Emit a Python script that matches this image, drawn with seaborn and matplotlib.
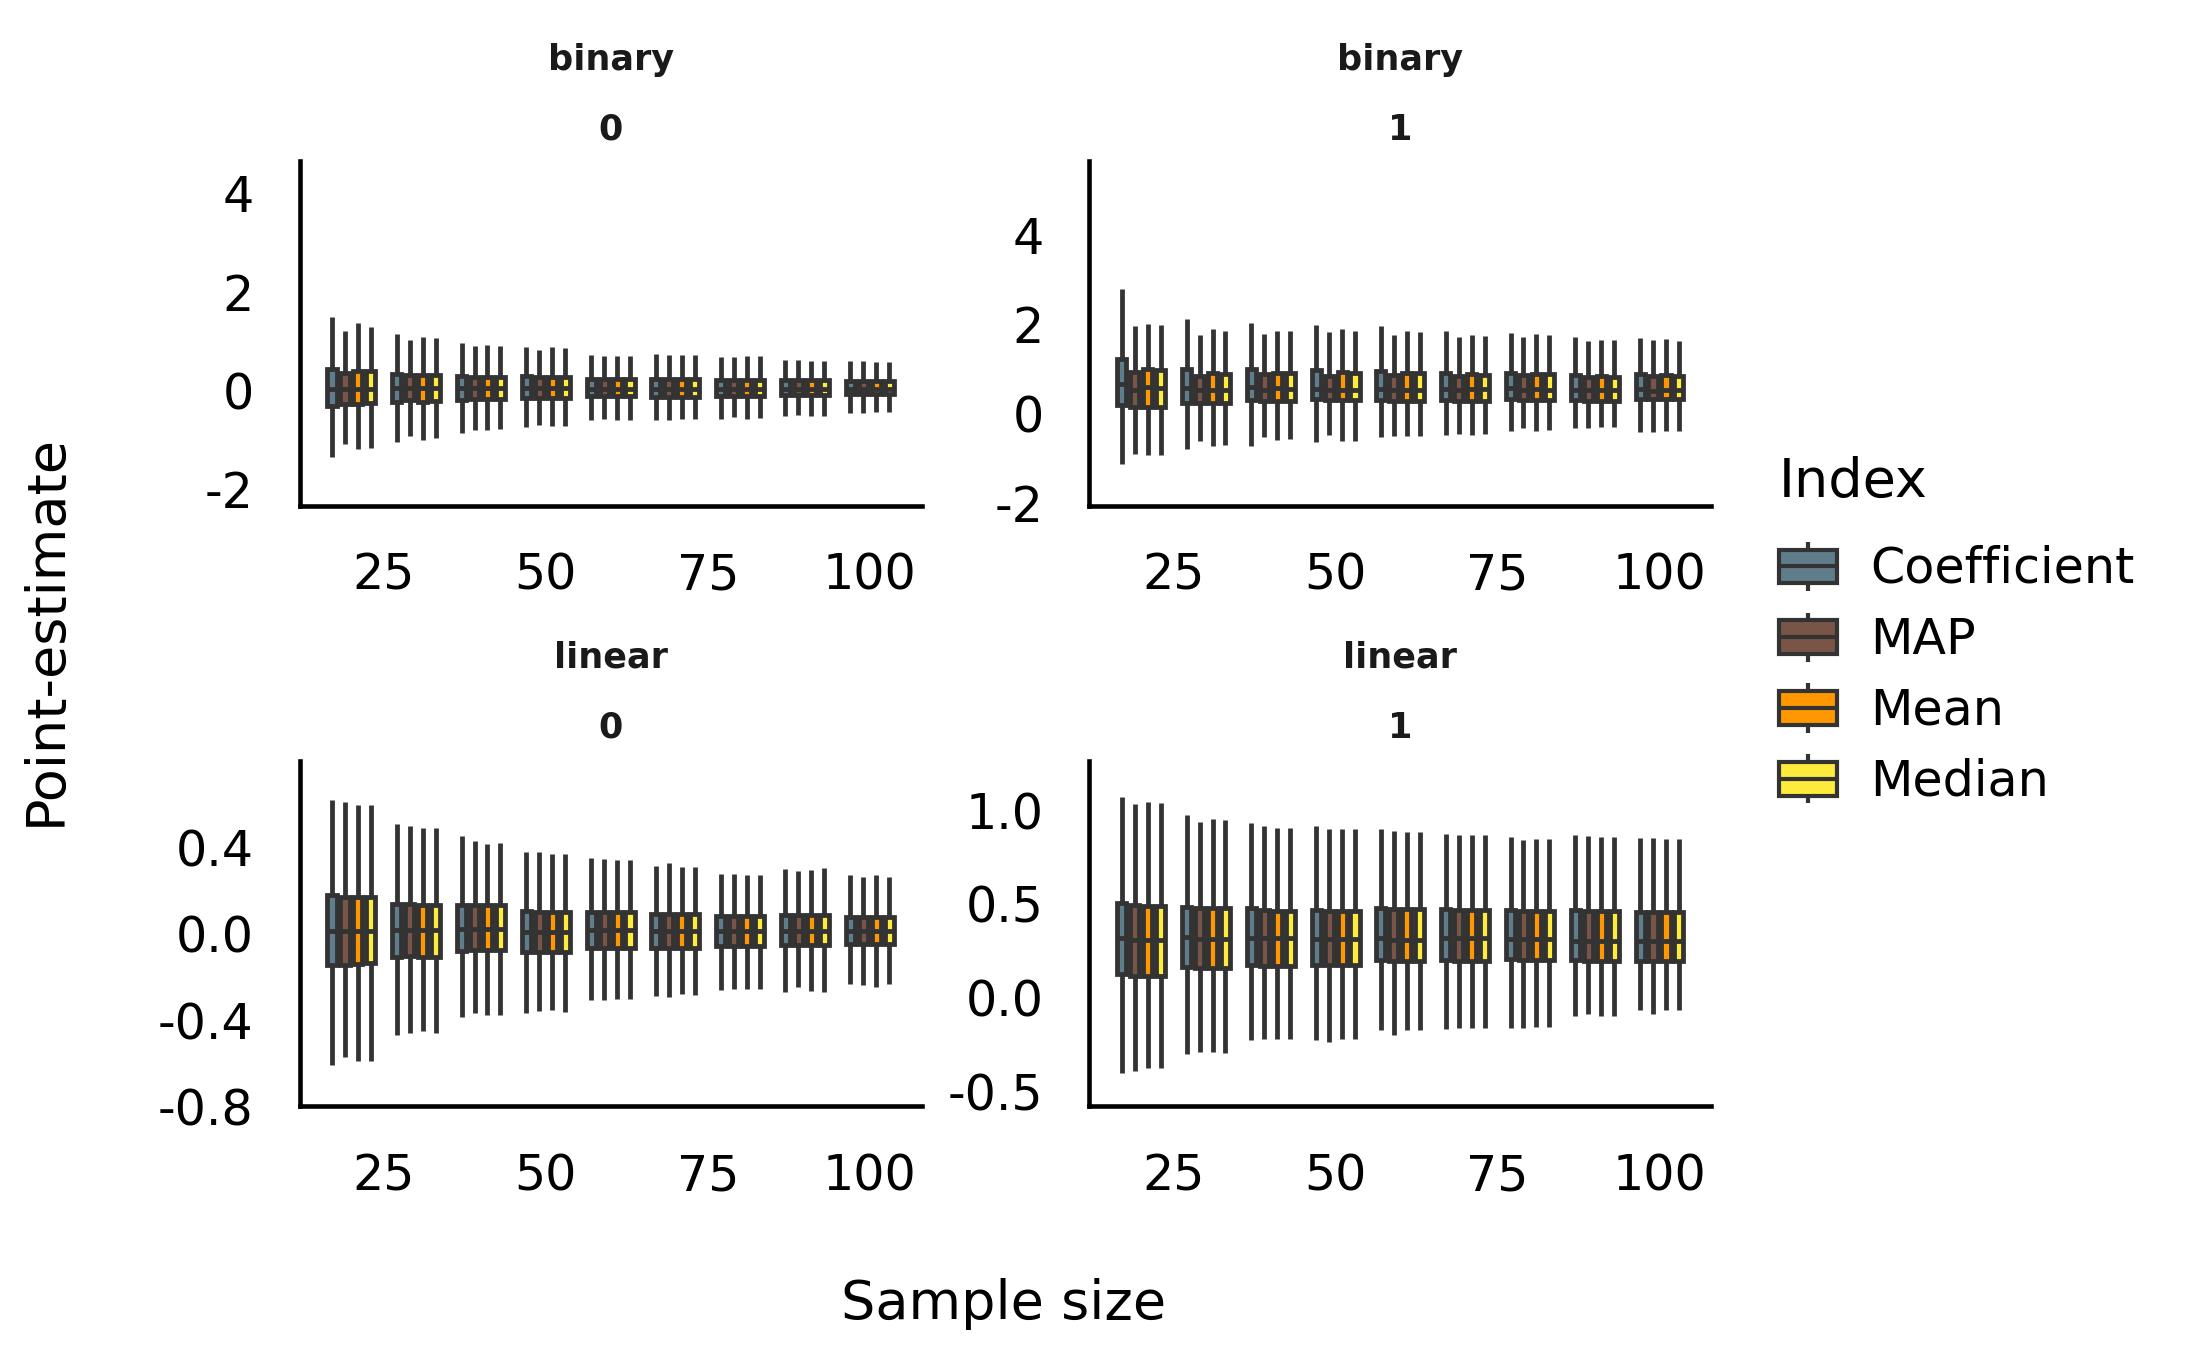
import numpy as np
import pandas as pd
import seaborn as sns
import matplotlib.pyplot as plt
from matplotlib.ticker import FormatStrFormatter
from matplotlib.legend_handler import HandlerBase
from matplotlib.patches import Rectangle, Patch
from matplotlib.lines import Line2D

# ---------------- data ----------------
sizes = [20, 30, 40, 50, 60, 70, 80, 90, 100]
indices = ["Coefficient", "MAP", "Mean", "Median"]
colors = ["#607D8B", "#795548", "#FF9800", "#FFEB3B"]

# binary / 0   (rows: Coefficient, MAP, Mean, Median)
binary0_hi = [[1.48, 1.14, 0.96, 0.88, 0.72, 0.74, 0.68, 0.61, 0.59],
              [1.21, 1.02, 0.91, 0.83, 0.70, 0.72, 0.68, 0.61, 0.60],
              [1.37, 1.09, 0.93, 0.89, 0.70, 0.73, 0.70, 0.60, 0.58],
              [1.28, 1.07, 0.91, 0.87, 0.70, 0.72, 0.69, 0.59, 0.58]]
binary0_q3 = [[0.43, 0.33, 0.29, 0.29, 0.24, 0.23, 0.22, 0.21, 0.20],
              [0.36, 0.31, 0.28, 0.28, 0.24, 0.23, 0.22, 0.21, 0.20],
              [0.40, 0.32, 0.28, 0.28, 0.24, 0.23, 0.22, 0.21, 0.20],
              [0.39, 0.31, 0.28, 0.28, 0.24, 0.23, 0.22, 0.21, 0.20]]
binary0_med = [[0.03, 0.05, 0.05, 0.05, 0.04, 0.04, 0.04, 0.04, 0.04],
               [0.03, 0.05, 0.05, 0.05, 0.04, 0.04, 0.04, 0.04, 0.04],
               [0.03, 0.05, 0.05, 0.05, 0.04, 0.04, 0.04, 0.04, 0.04],
               [0.03, 0.05, 0.05, 0.05, 0.04, 0.04, 0.04, 0.04, 0.04]]
binary0_q1 = [[-0.31, -0.24, -0.18, -0.14, -0.10, -0.12, -0.11, -0.09, -0.07],
              [-0.27, -0.20, -0.17, -0.14, -0.10, -0.12, -0.11, -0.09, -0.07],
              [-0.27, -0.23, -0.17, -0.14, -0.10, -0.12, -0.11, -0.09, -0.07],
              [-0.26, -0.22, -0.17, -0.14, -0.10, -0.12, -0.11, -0.09, -0.07]]
binary0_lo = [[-1.34, -1.03, -0.85, -0.74, -0.59, -0.60, -0.58, -0.52, -0.46],
              [-1.09, -0.91, -0.79, -0.69, -0.58, -0.60, -0.54, -0.50, -0.46],
              [-1.19, -0.99, -0.79, -0.72, -0.60, -0.58, -0.57, -0.52, -0.44],
              [-1.16, -0.96, -0.77, -0.71, -0.60, -0.58, -0.56, -0.51, -0.44]]

# binary / 1
binary1_hi = [[2.78, 2.13, 2.04, 1.99, 1.96, 1.85, 1.81, 1.71, 1.70],
              [1.96, 1.75, 1.79, 1.82, 1.76, 1.71, 1.71, 1.63, 1.64],
              [2.01, 1.89, 1.86, 1.89, 1.86, 1.77, 1.78, 1.66, 1.67],
              [1.98, 1.86, 1.84, 1.86, 1.82, 1.74, 1.76, 1.65, 1.62]]
binary1_q3 = [[1.23, 1.00, 0.99, 0.97, 0.96, 0.91, 0.91, 0.86, 0.88],
              [0.94, 0.84, 0.88, 0.85, 0.86, 0.84, 0.86, 0.82, 0.84],
              [0.99, 0.91, 0.91, 0.93, 0.91, 0.88, 0.89, 0.84, 0.86],
              [0.97, 0.89, 0.90, 0.91, 0.90, 0.86, 0.89, 0.82, 0.84]]
binary1_med = [[0.67, 0.58, 0.60, 0.56, 0.56, 0.56, 0.57, 0.54, 0.55],
               [0.54, 0.52, 0.54, 0.52, 0.53, 0.54, 0.54, 0.52, 0.51],
               [0.59, 0.54, 0.57, 0.54, 0.54, 0.55, 0.55, 0.54, 0.54],
               [0.57, 0.54, 0.55, 0.52, 0.54, 0.55, 0.54, 0.53, 0.54]]
binary1_q1 = [[0.19, 0.25, 0.30, 0.32, 0.31, 0.31, 0.32, 0.31, 0.34],
              [0.16, 0.23, 0.28, 0.30, 0.29, 0.29, 0.31, 0.29, 0.32],
              [0.16, 0.25, 0.29, 0.31, 0.29, 0.29, 0.31, 0.29, 0.32],
              [0.16, 0.25, 0.29, 0.31, 0.29, 0.29, 0.31, 0.29, 0.32]]
binary1_lo = [[-1.13, -0.78, -0.72, -0.63, -0.51, -0.48, -0.39, -0.31, -0.40],
              [-0.91, -0.61, -0.52, -0.48, -0.50, -0.46, -0.33, -0.31, -0.42],
              [-0.93, -0.72, -0.59, -0.61, -0.50, -0.48, -0.39, -0.30, -0.39],
              [-0.92, -0.70, -0.57, -0.60, -0.50, -0.46, -0.37, -0.30, -0.39]]

# linear / 0
linear0_hi = [[0.62, 0.51, 0.456, 0.379, 0.351, 0.314, 0.280, 0.302, 0.273],
              [0.61, 0.50, 0.430, 0.379, 0.348, 0.327, 0.277, 0.294, 0.262],
              [0.60, 0.49, 0.417, 0.373, 0.345, 0.311, 0.274, 0.297, 0.274],
              [0.60, 0.49, 0.420, 0.373, 0.345, 0.311, 0.274, 0.305, 0.265]]
linear0_q3 = [[0.180, 0.139, 0.132, 0.105, 0.102, 0.092, 0.083, 0.090, 0.080],
              [0.172, 0.139, 0.135, 0.102, 0.102, 0.092, 0.083, 0.090, 0.080],
              [0.170, 0.136, 0.132, 0.102, 0.102, 0.092, 0.083, 0.090, 0.080],
              [0.170, 0.136, 0.132, 0.102, 0.102, 0.092, 0.083, 0.090, 0.080]]
linear0_med = [[0.013, 0.020, 0.024, 0.008, 0.018, 0.013, 0.013, 0.016, 0.016],
               [0.013, 0.020, 0.024, 0.008, 0.018, 0.013, 0.013, 0.016, 0.016],
               [0.013, 0.020, 0.024, 0.008, 0.018, 0.013, 0.013, 0.016, 0.016],
               [0.013, 0.020, 0.024, 0.008, 0.018, 0.013, 0.013, 0.016, 0.016]]
linear0_q1 = [[-0.145, -0.107, -0.079, -0.083, -0.063, -0.067, -0.056, -0.053, -0.048],
              [-0.142, -0.104, -0.076, -0.083, -0.063, -0.067, -0.056, -0.053, -0.048],
              [-0.140, -0.105, -0.076, -0.083, -0.063, -0.067, -0.056, -0.053, -0.048],
              [-0.137, -0.105, -0.076, -0.083, -0.063, -0.067, -0.056, -0.053, -0.048]]
linear0_lo = [[-0.61, -0.47, -0.384, -0.368, -0.307, -0.287, -0.260, -0.268, -0.234],
              [-0.57, -0.46, -0.365, -0.356, -0.307, -0.294, -0.254, -0.244, -0.235],
              [-0.59, -0.45, -0.374, -0.353, -0.300, -0.279, -0.257, -0.264, -0.245],
              [-0.59, -0.46, -0.374, -0.363, -0.300, -0.282, -0.257, -0.268, -0.233]]

# linear / 1
linear1_hi = [[1.070, 0.973, 0.930, 0.914, 0.898, 0.874, 0.858, 0.869, 0.851],
              [1.035, 0.939, 0.917, 0.898, 0.887, 0.867, 0.840, 0.865, 0.851],
              [1.044, 0.951, 0.907, 0.898, 0.883, 0.867, 0.847, 0.855, 0.844],
              [1.040, 0.949, 0.905, 0.900, 0.882, 0.867, 0.847, 0.855, 0.844]]
linear1_q3 = [[0.507, 0.486, 0.477, 0.470, 0.479, 0.472, 0.466, 0.470, 0.459],
              [0.495, 0.477, 0.470, 0.463, 0.474, 0.467, 0.460, 0.465, 0.455],
              [0.490, 0.477, 0.465, 0.463, 0.474, 0.467, 0.460, 0.465, 0.455],
              [0.490, 0.477, 0.465, 0.463, 0.474, 0.467, 0.460, 0.465, 0.455]]
linear1_med = [[0.320, 0.324, 0.317, 0.315, 0.317, 0.317, 0.315, 0.305, 0.305],
               [0.310, 0.315, 0.317, 0.315, 0.308, 0.317, 0.315, 0.305, 0.305],
               [0.310, 0.315, 0.317, 0.315, 0.308, 0.317, 0.315, 0.305, 0.305],
               [0.310, 0.315, 0.317, 0.315, 0.308, 0.317, 0.315, 0.305, 0.305]]
linear1_q1 = [[0.125, 0.163, 0.172, 0.175, 0.202, 0.202, 0.207, 0.202, 0.198],
              [0.118, 0.157, 0.167, 0.172, 0.195, 0.198, 0.203, 0.198, 0.195],
              [0.118, 0.157, 0.167, 0.172, 0.195, 0.198, 0.203, 0.198, 0.195],
              [0.118, 0.157, 0.167, 0.172, 0.195, 0.198, 0.203, 0.198, 0.195]]
linear1_lo = [[-0.400, -0.300, -0.228, -0.228, -0.171, -0.167, -0.160, -0.099, -0.063],
              [-0.390, -0.290, -0.219, -0.235, -0.199, -0.160, -0.160, -0.085, -0.088],
              [-0.374, -0.290, -0.219, -0.220, -0.174, -0.160, -0.156, -0.099, -0.067],
              [-0.376, -0.294, -0.219, -0.220, -0.174, -0.160, -0.156, -0.099, -0.067]]

panels = [
    ("binary", 0, binary0_lo, binary0_q1, binary0_med, binary0_q3, binary0_hi),
    ("binary", 1, binary1_lo, binary1_q1, binary1_med, binary1_q3, binary1_hi),
    ("linear", 0, linear0_lo, linear0_q1, linear0_med, linear0_q3, linear0_hi),
    ("linear", 1, linear1_lo, linear1_q1, linear1_med, linear1_q3, linear1_hi),
]

records = []
for data, par, lo, q1, md, q3, hi in panels:
    for i, idx in enumerate(indices):
        for j, n in enumerate(sizes):
            for v in (lo[i][j], q1[i][j], md[i][j], q3[i][j], hi[i][j]):
                records.append({"Data": data, "Parameter": par, "Index": idx,
                                "Sample size": n, "Point-estimate": v})
df = pd.DataFrame(records)

# ---------------- style ----------------
sns.set_theme(style="white", context="notebook")
plt.rcParams.update({
    "font.family": ["DejaVu Sans"],
    "axes.unicode_minus": False,
    "text.color": "black",
    "axes.labelcolor": "black",
    "xtick.color": "black",
    "ytick.color": "black",
    "axes.edgecolor": "black",
    "axes.linewidth": 1.1,
    "xtick.labelsize": 11.8,
    "ytick.labelsize": 11.8,
    "xtick.major.size": 0,
    "ytick.major.size": 0,
    "xtick.major.pad": 11.0,
    "ytick.major.pad": 11.0,
    "legend.fontsize": 11.8,
    "legend.title_fontsize": 13,
})

LINE = "#333333"
LW = 1.15

g = sns.catplot(
    data=df, x="Sample size", y="Point-estimate", hue="Index",
    row="Data", col="Parameter", kind="box", native_scale=True,
    row_order=["binary", "linear"], col_order=[0, 1], hue_order=indices,
    palette=colors, saturation=1, whis=(0, 100), linecolor=LINE,
    linewidth=LW, gap=0.3, showcaps=False, sharey=False, legend=False,
    whiskerprops={"linewidth": LW}, medianprops={"linewidth": LW},
    boxprops={"linewidth": LW},
    height=2.2, aspect=1.3,
)

fig = g.figure
fig.set_size_inches(7.29, 4.5034)
fig.subplots_adjust(left=0.137, right=0.7825, top=0.881, bottom=0.181,
                    wspace=0.27, hspace=0.741)

ylims = {("binary", 0): ((-2.33, 4.65), [-2, 0, 2, 4], "%d"),
         ("binary", 1): ((-2.06, 5.66), [-2, 0, 2, 4], "%d"),
         ("linear", 0): ((-0.79, 0.80), [-0.8, -0.4, 0.0, 0.4], "%.1f"),
         ("linear", 1): ((-0.58, 1.26), [-0.5, 0.0, 0.5, 1.0], "%.1f")}

keys = [(r, c) for r in ["binary", "linear"] for c in [0, 1]]
for (r, c), ax in zip(keys, g.axes.flat):
    lim, ticks, fmt = ylims[(r, c)]
    ax.set_ylim(*lim)
    ax.set_yticks(ticks)
    ax.yaxis.set_major_formatter(FormatStrFormatter(fmt))
    ax.set_xlim(12, 108)
    ax.set_xticks([25, 50, 75, 100])
    ax.set_xticklabels(["25", "50", "75", "100"])
    ax.tick_params(labelbottom=True, labelleft=True)
    ax.set_title("")
    ax.set_xlabel("")
    ax.set_ylabel("")
    top = 1.293 if r == "binary" else 1.30
    sub = 1.09 if r == "binary" else 1.097
    ax.text(0.5, top, r, transform=ax.transAxes, ha="center", va="center",
            fontsize=8.4, fontweight="bold", color="#1a1a1a")
    ax.text(0.5, sub, str(c), transform=ax.transAxes, ha="center", va="center",
            fontsize=8.4, fontweight="bold", color="#1a1a1a")

fig.text(0.459, 0.035, "Sample size", ha="center", va="center", fontsize=13)
fig.text(0.021, 0.534, "Point-estimate", ha="center", va="center",
         rotation=90, fontsize=13)


class BoxHandler(HandlerBase):
    def create_artists(self, legend, orig_handle, xdescent, ydescent,
                       width, height, fontsize, trans):
        x0, y0 = -xdescent, -ydescent
        bh = height * 0.68
        by = y0 + (height - bh) / 2
        cx = x0 + width / 2
        whisk = Line2D([cx, cx], [y0, y0 + height], color=LINE, lw=1.0,
                       solid_capstyle="butt", transform=trans)
        rect = Rectangle((x0, by), width, bh,
                         facecolor=orig_handle.get_facecolor(),
                         edgecolor=LINE, lw=1.0, transform=trans)
        med = Line2D([x0, x0 + width], [by + bh / 2] * 2, color=LINE, lw=1.0,
                     solid_capstyle="butt", transform=trans)
        return [whisk, rect, med]


handles = [Patch(facecolor=c, edgecolor=LINE) for c in colors]
leg = fig.legend(handles, indices, title="Index", loc="center left",
                 bbox_to_anchor=(0.8045, 0.533), frameon=False,
                 handler_map={Patch: BoxHandler()},
                 handlelength=1.18, handleheight=1.16, handletextpad=0.68,
                 labelspacing=0.40, borderaxespad=0)
leg._legend_box.align = "left"
leg._legend_box.sep = 0.45 * 11.8 + 2.7

fig.savefig("out.png", dpi=300)
